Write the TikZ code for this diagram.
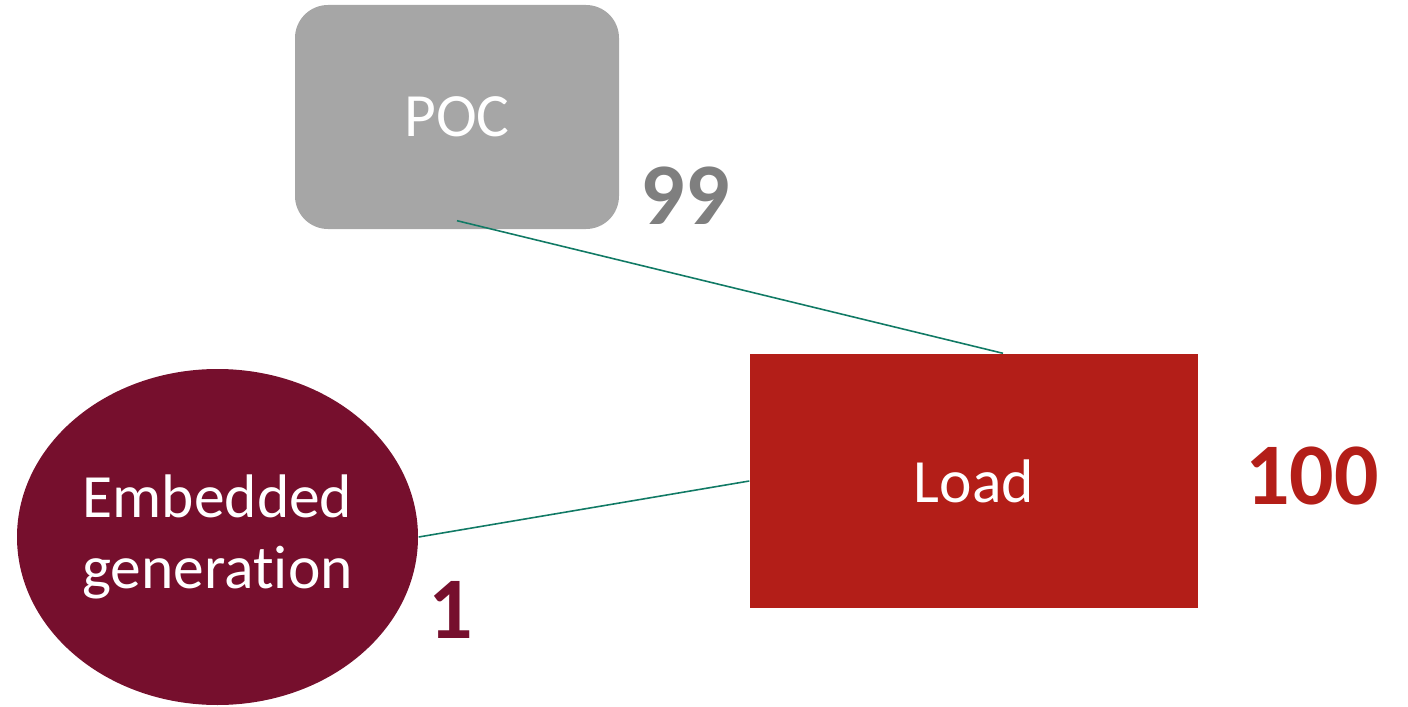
\documentclass[tikz,border=0pt]{standalone}
\usepackage{fontspec}
\setmainfont[Ligatures=NoCommon]{Carlito}
\usetikzlibrary{shapes.geometric}

\definecolor{pocgray}{HTML}{A6A6A6}
\definecolor{numgray}{HTML}{7F7F7F}
\definecolor{loadred}{HTML}{B31E18}
\definecolor{genred}{HTML}{760F2D}
\definecolor{linkgreen}{HTML}{117A65}

\tikzset{
	box/.style={text=white, font=\fontsize{17.5}{20}\selectfont, inner sep=0pt},
	num/.style={font=\fontsize{25}{30}\selectfont\bfseries, inner sep=0pt},
	link/.style={draw=linkgreen, line width=0.45pt}
}

\begin{document}
\begin{tikzpicture}
	\useasboundingbox (0,0) rectangle (14.08,-7.07);
	
	\node[box, fill=pocgray, rounded corners=0.33cm, minimum width=3.24cm, minimum height=2.24cm] (POC) at (4.57,-1.17) {POC};
	\node[box, fill=loadred, minimum width=4.48cm, minimum height=2.54cm] (Load) at (9.74,-4.81) {Load};
	\node[box, fill=genred, ellipse, minimum width=4.01cm, minimum height=3.36cm, align=center] (Gen) at (2.175,-5.37) {Embedded\\generation};
	
	\node[num, text=numgray] (n99) at (6.85,-1.955) {99};
	\node[num, text=loadred] (n100) at (13.12,-4.76) {100};
	\node[num, text=genred] (n1) at (4.51,-6.10) {1};
	
	\draw[link] ([yshift=0.09cm]POC.south) -- ([xshift=0.29cm]Load.north);
	\draw[link] (Gen.east) -- (Load.west);
\end{tikzpicture}
\end{document}
